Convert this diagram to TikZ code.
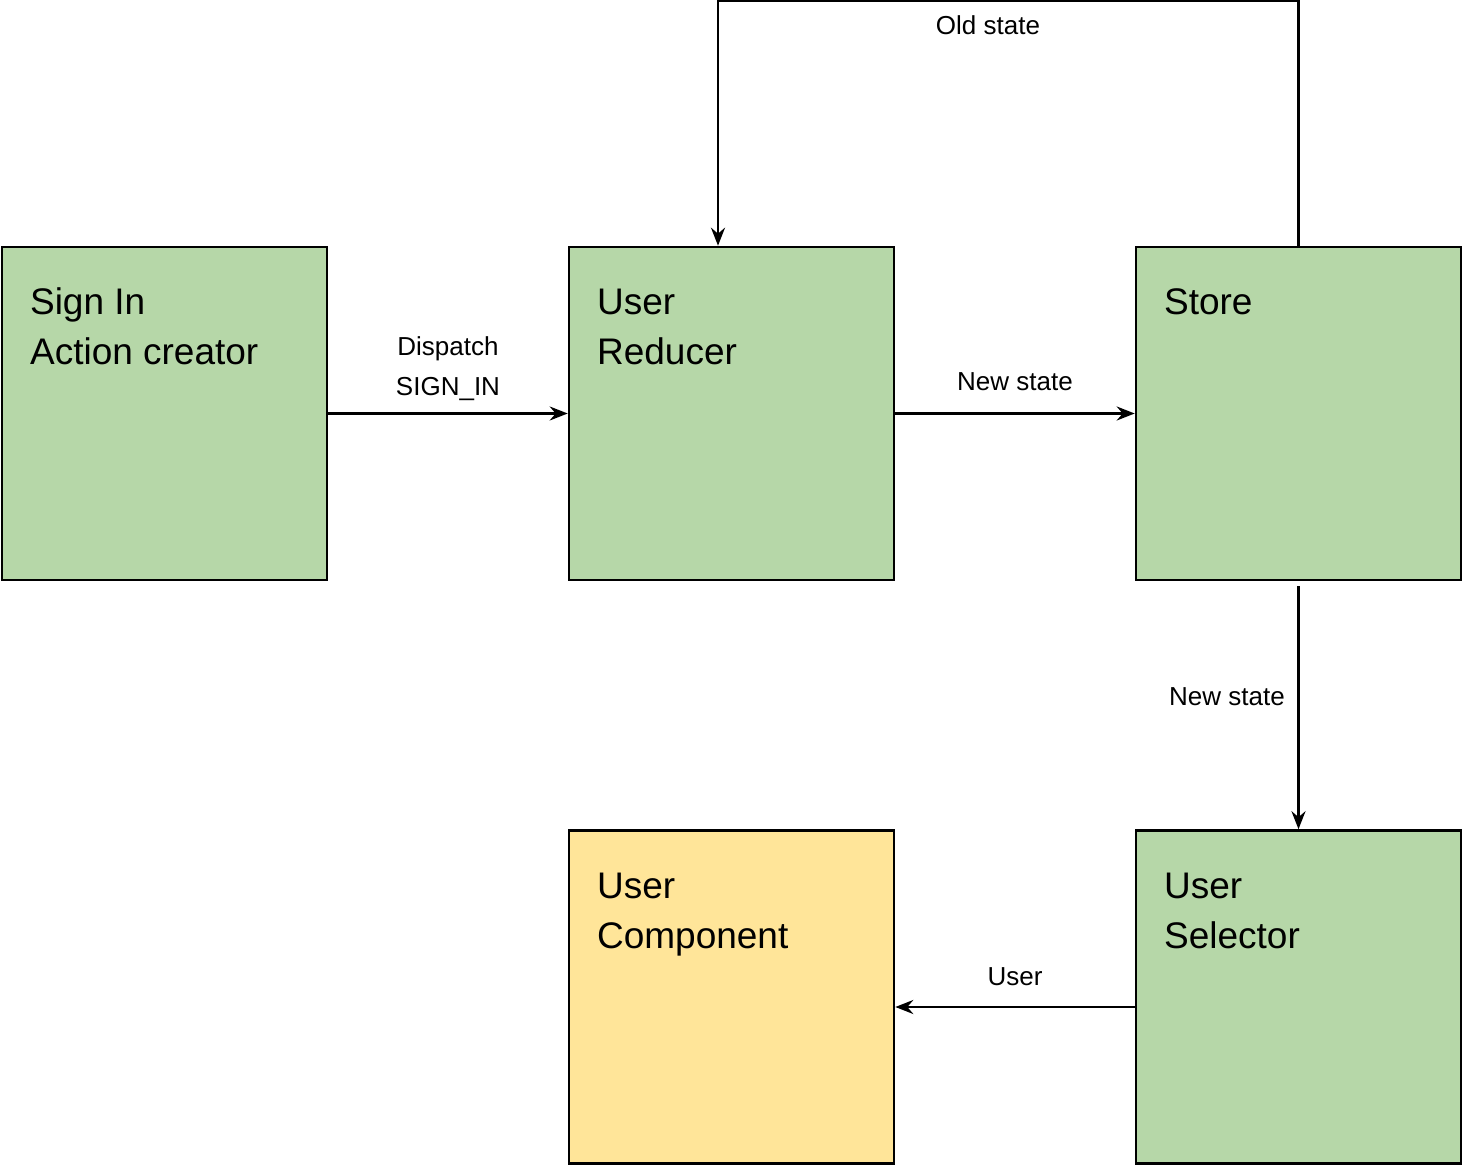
\documentclass[tikz,border=0pt]{standalone}
\usepackage{fontspec}
\setmainfont{Liberation Sans}
\usetikzlibrary{arrows.meta,calc}
\definecolor{boxgreen}{HTML}{B6D7A8}
\definecolor{boxyellow}{HTML}{FFE599}
\tikzset{
  block/.style={draw=black, line width=1.3pt, minimum width=162.5pt, minimum height=166.5pt, inner sep=0pt},
  greenbox/.style={block, fill=boxgreen},
  yellowbox/.style={block, fill=boxyellow},
  boxtext/.style={anchor=base west, inner sep=0pt, align=left, font=\fontsize{18.5pt}{25pt}\selectfont},
  lbl/.style={anchor=base, inner sep=0pt, font=\fontsize{13pt}{15pt}\selectfont},
  arr/.style={draw=black, line width=1.3pt, -{Stealth[length=9pt, width=7pt, inset=3pt]}},
}
\begin{document}
\begin{tikzpicture}[x=0.5pt, y=-0.5pt]
\useasboundingbox (0,0) rectangle (1463,1166);
\node[greenbox] (sign) at (164.5,413.5) {};
\node[greenbox] (red) at (731.5,413.5) {};
\node[greenbox] (store) at (1298.5,413.5) {};
\node[yellowbox] (comp) at (731.5,997) {};
\node[greenbox] (sel) at (1298.5,997) {};

% anchor = baseline of the last line
\node[boxtext] (signt) at ($(sign.north west)+(29,119)$) {Sign In\\Action creator};
\node[boxtext] (redt) at ($(red.north west)+(29,119)$) {User\\Reducer};
\node[boxtext] (storet) at ($(store.north west)+(29,69)$) {Store};
\node[boxtext] (compt) at ($(comp.north west)+(29,119)$) {User\\Component};
\node[boxtext] (selt) at ($(sel.north west)+(29,119)$) {User\\Selector};

\draw[arr] (sign.east) -- (red.west);
\draw[arr] (red.east) -- (store.west);
\draw[arr] ($(sel.west)+(0,10)$) -- ($(comp.east)+(0,10)$);
\draw[arr, shorten <=2.5pt] (store.south) -- (sel.north);
\coordinate (drop) at ($(red.north)+(-13.5,0)$);
\draw[arr] (store.north) -- ++(0,-245) -| (drop);

\node[lbl] (l1) at (448,356) {Dispatch};
\node[lbl] (l2) at (448,395) {SIGN\_IN};
\node[lbl] (l3) at (1015,391) {New state};
\node[lbl] (l4) at (988,35) {Old state};
\node[lbl] (l5) at (1227,705) {New state};
\node[lbl] (l6) at (1015,985) {User};
\end{tikzpicture}
\end{document}
